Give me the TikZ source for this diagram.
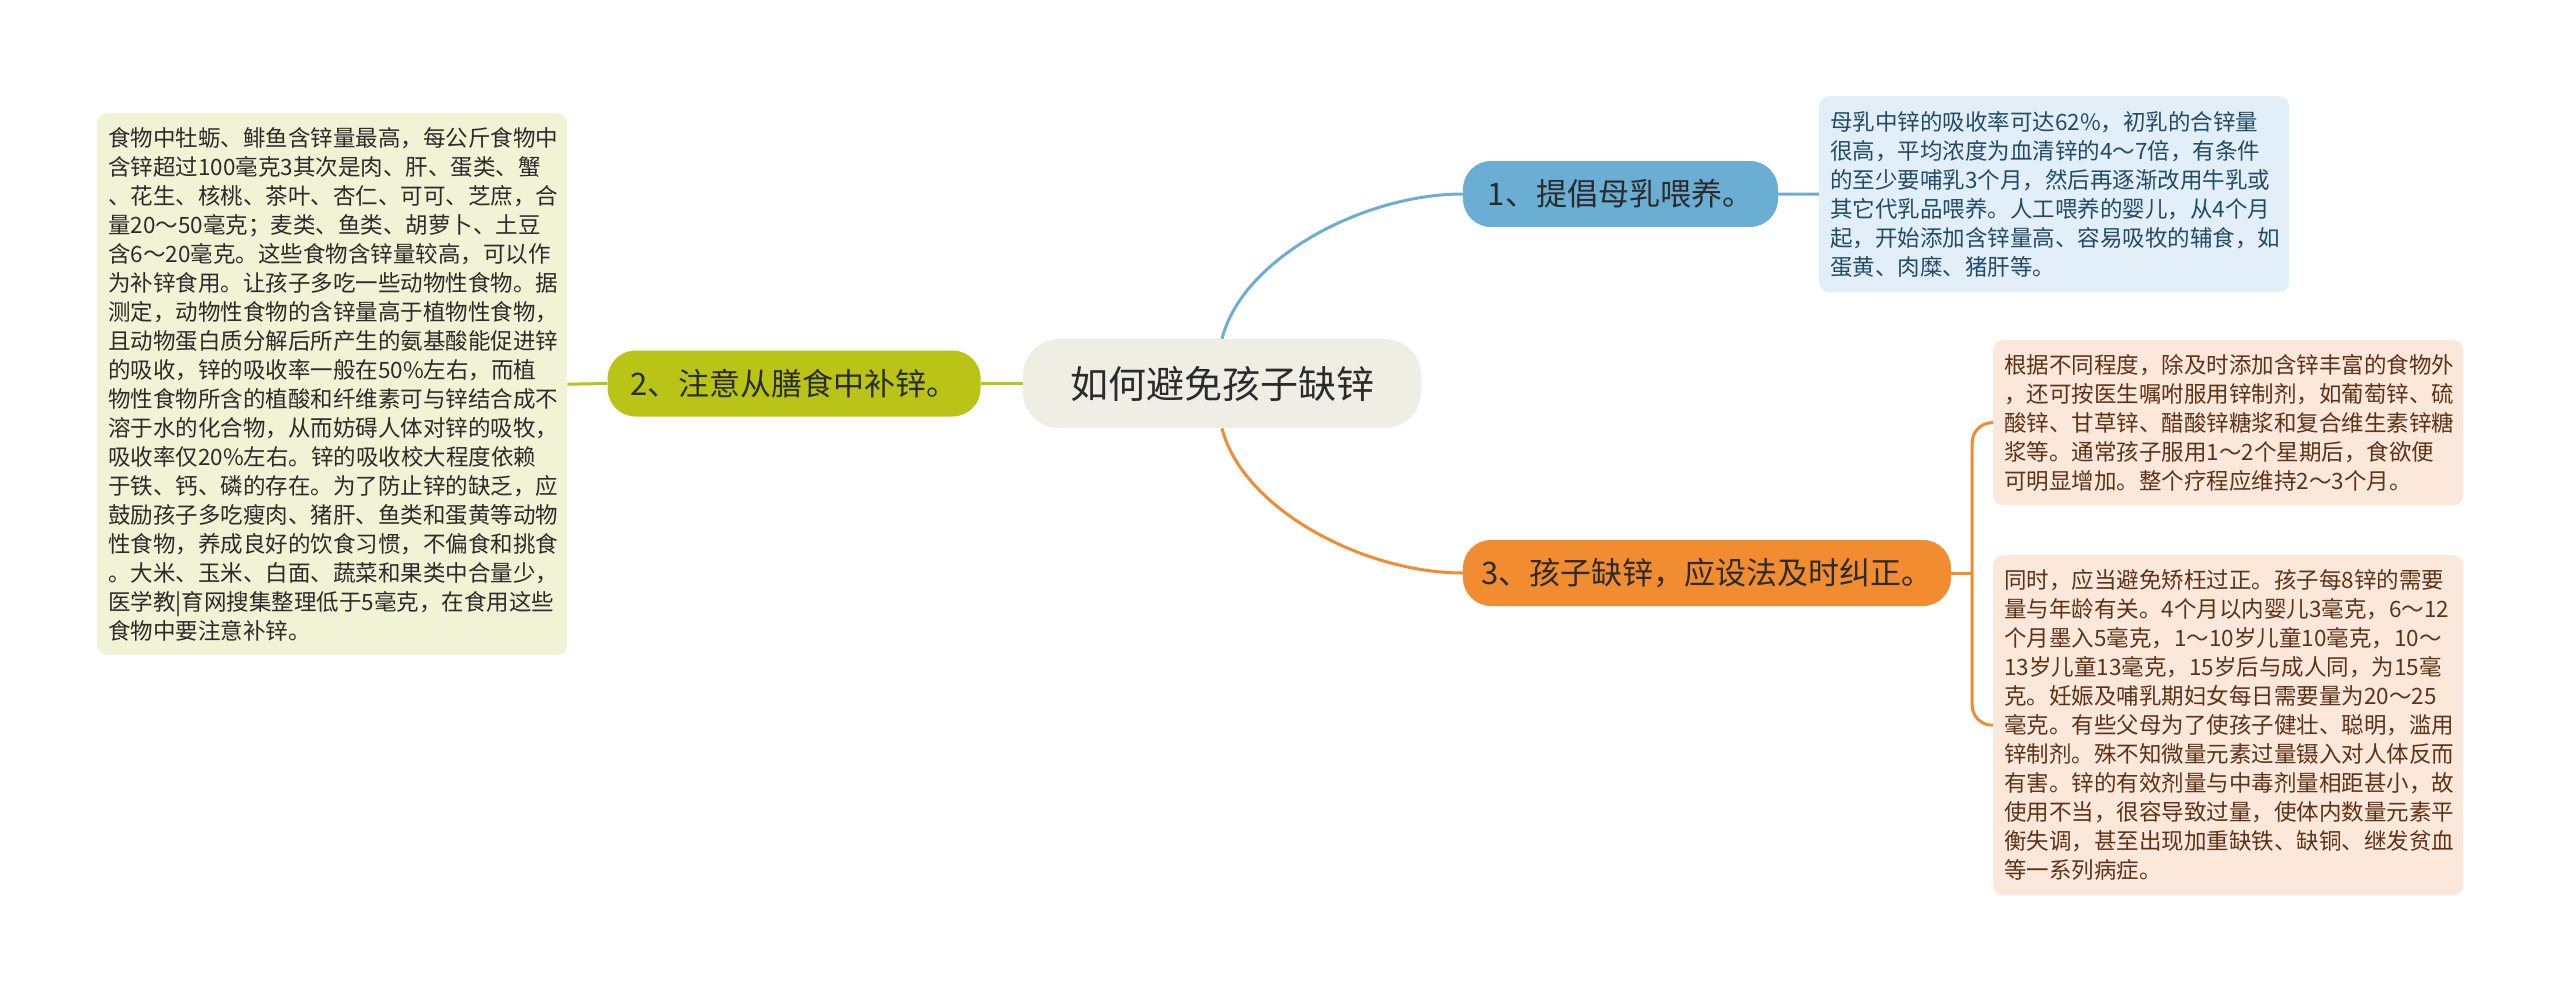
\documentclass[tikz,border=0pt]{standalone}
\usepackage{fontspec}
\newfontfamily\cjk{Noto Sans CJK SC}
\usepackage{tikz}
\usepackage{xcolor}
\usetikzlibrary{positioning, backgrounds}
\setlength{\parindent}{0pt}
\definecolor{cRoot}{HTML}{EFEEE5}
\definecolor{cBlue}{HTML}{6BAED3}
\definecolor{cLime}{HTML}{BAC416}
\definecolor{cOrange}{HTML}{F28C30}
\definecolor{cBlueNote}{HTML}{E2EFF8}
\definecolor{cLimeNote}{HTML}{F0F3D4}
\definecolor{cOrangeNote}{HTML}{FCE8DA}
\definecolor{cInk}{HTML}{2B2B2B}
\definecolor{cBlueInk}{HTML}{234B66}
\definecolor{cBrownInk}{HTML}{5C3317}
\tikzset{
	root/.style ={rectangle, rounded corners=36pt, minimum width=398pt, minimum height=89pt, inner sep=0pt, fill=cRoot, text=cInk, font=\cjk\fontsize{38}{44}\selectfont},
	topic/.style={rectangle, rounded corners=28pt, minimum height=66pt, inner sep=0pt, text=cInk, font=\cjk\fontsize{31}{36}\selectfont},
	% detail boxes
	note/.style ={rectangle, rounded corners=10pt, anchor=north west, minimum width=470pt, text width=448pt, inner xsep=11pt, inner ysep=0pt, align=left, font=\cjk\fontsize{22.5}{29}\selectfont},
	branch/.style={line width=3pt},
}

\begin{document}
\begin{tikzpicture}[x=1pt, y=-1pt]
	\useasboundingbox (0,0) rectangle (2560,991);
	\node[root] (root) at (1222,383.5) {如何避免孩子缺锌};
	\node[topic, fill=cBlue, minimum width=315pt] (n1) at (1620.5,194) {1、提倡母乳喂养。};
	\node[topic, fill=cLime, minimum width=373pt, left=42pt of root] (n2) {2、注意从膳食中补锌。};
	\node[topic, fill=cOrange, minimum width=488pt] (n3) at (1707,573) {3、孩子缺锌，应设法及时纠正。};

	\node[note, fill=cBlueNote, text=cBlueInk, minimum height=196pt] (b1) at (1819,96) {母乳中锌的吸收率可达62\%，初乳的合锌量\\
很高，平均浓度为血清锌的4～7倍，有条件\\
的至少要哺乳3个月，然后再逐渐改用牛乳或\\
其它代乳品喂养。人工喂养的婴儿，从4个月\\
起，开始添加含锌量高、容易吸牧的辅食，如\\
蛋黄、肉糜、猪肝等。};
	\node[note, fill=cLimeNote, text=cInk, minimum height=542pt] (b2) at (97,113) {食物中牡蛎、鲱鱼含锌量最高，每公斤食物中\\
含锌超过100毫克3其次是肉、肝、蛋类、蟹\\
、花生、核桃、茶叶、杏仁、可可、芝庶，合\\
量20～50毫克；麦类、鱼类、胡萝卜、土豆\\
含6～20毫克。这些食物含锌量较高，可以作\\
为补锌食用。让孩子多吃一些动物性食物。据\\
测定，动物性食物的含锌量高于植物性食物，\\
且动物蛋白质分解后所产生的氨基酸能促进锌\\
的吸收，锌的吸收率一般在50\%左右，而植\\
物性食物所含的植酸和纤维素可与锌结合成不\\
溶于水的化合物，从而妨碍人体对锌的吸牧，\\
吸收率仅20\%左右。锌的吸收校大程度依赖\\
于铁、钙、磷的存在。为了防止锌的缺乏，应\\
鼓励孩子多吃瘦肉、猪肝、鱼类和蛋黄等动物\\
性食物，养成良好的饮食习惯，不偏食和挑食\\
。大米、玉米、白面、蔬菜和果类中合量少，\\
医学教|育网搜集整理低于5毫克，在食用这些\\
食物中要注意补锌。};
	\node[note, fill=cOrangeNote, text=cBrownInk, minimum height=165pt] (b3a) at (1993,340) {根据不同程度，除及时添加含锌丰富的食物外\\
，还可按医生嘱咐服用锌制剂，如葡萄锌、硫\\
酸锌、甘草锌、醋酸锌糖浆和复合维生素锌糖\\
浆等。通常孩子服用1～2个星期后，食欲便\\
可明显增加。整个疗程应维持2～3个月。};
	\node[note, fill=cOrangeNote, text=cBrownInk, minimum height=340pt] (b3b) at (1993,555) {同时，应当避免矫枉过正。孩子每8锌的需要\\
量与年龄有关。4个月以内婴儿3毫克，6～12\\
个月墨入5毫克，1～10岁儿童10毫克，10～\\
13岁儿童13毫克，15岁后与成人同，为15毫\\
克。妊娠及哺乳期妇女每日需要量为20～25\\
毫克。有些父母为了使孩子健壮、聪明，滥用\\
锌制剂。殊不知微量元素过量镊入对人体反而\\
有害。锌的有效剂量与中毒剂量相距甚小，故\\
使用不当，很容导致过量，使体内数量元素平\\
衡失调，甚至出现加重缺铁、缺铜、继发贫血\\
等一系列病症。};

	\begin{scope}[on background layer]
		\draw[branch, cBlue] (root.north) .. controls +(20,-80) and +(-100,0) .. (n1.west);
		\draw[branch, cOrange] (root.south) .. controls +(20,80) and +(-100,0) .. (n3.west);
		\draw[branch, cLime] (root.west) -- (n2.east);
		\draw[branch, cLime] (n2.west) -- (b2.east);
		\draw[branch, cBlue] (n1.east) -- (b1.west);
		\draw[branch, cOrange] (n3.east) -- ++(21,0) coordinate (fork);
		\draw[branch, cOrange, rounded corners=20pt] (b3a.west) -| (fork) |- (b3b.west);
	\end{scope}
\end{tikzpicture}
\end{document}
